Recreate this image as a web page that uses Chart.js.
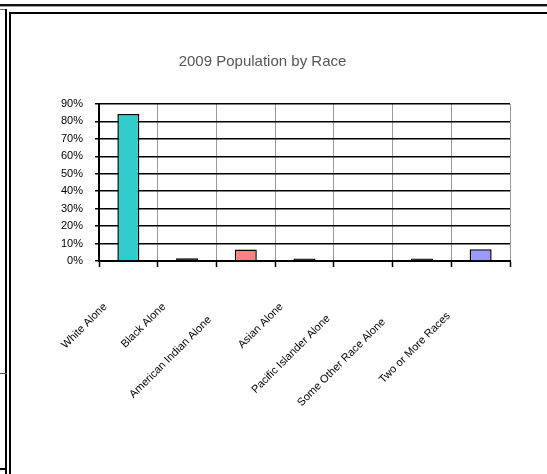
<!DOCTYPE html>
<html><head><meta charset="utf-8">
<script src="https://cdn.jsdelivr.net/npm/chart.js@4/dist/chart.umd.min.js"></script>
<style>
html,body{margin:0;padding:0;background:#fff;overflow:hidden}
#wrap{position:relative;width:547px;height:474px;background:#fff}
canvas{position:absolute;left:0;top:0}
.ln{position:absolute;background:#000}
</style></head><body>
<div id="wrap">
<canvas id="c" width="547" height="474"></canvas>
<!-- window frame lines -->
<div class="ln" style="left:0;top:4px;width:547px;height:2px;background:#111"></div>
<div class="ln" style="left:0;top:6px;width:547px;height:1px;background:#999"></div>
<div class="ln" style="left:0;top:9px;width:6px;height:1px;background:#666"></div>
<div class="ln" style="left:5px;top:9px;width:2px;height:465px"></div>
<div class="ln" style="left:9px;top:12px;width:538px;height:2px"></div>
<div class="ln" style="left:9px;top:12px;width:2px;height:462px"></div>
<div class="ln" style="left:0;top:373px;width:7px;height:1px;background:#555"></div>
<div class="ln" style="left:0;top:468px;width:7px;height:2px"></div>
</div>
<script>
const categories = ['White Alone', 'Black Alone', 'American Indian Alone', 'Asian Alone',
  'Pacific Islander Alone', 'Some Other Race Alone', 'Two or More Races'];
const shares = [84.3, 1.6, 6.6, 1.5, 0, 1.5, 6.7];
const barColors = ['#33CCCC', '#000000', '#FF8080', '#000000', '#000000', '#000000', '#9999FF'];
const yMax = 90;
const yStep = 10;

const fontFamily = "'Liberation Sans', Arial, sans-serif";
const font = { family: fontFamily, size: 11 };

// Category names slanted at 45 degrees; longer names slide further down the slope.
const slantedLabels = {
  id: 'slantedLabels',
  afterDraw(chart) {
    const xs = chart.scales.x;
    const ctx = chart.ctx;
    ctx.save();
    ctx.font = '11px ' + fontFamily;
    ctx.fillStyle = '#000';
    ctx.textAlign = 'right';
    ctx.textBaseline = 'middle';
    const shortW = ctx.measureText(categories[0]).width;
    xs.ticks.forEach((t, i) => {
      const label = xs.getLabelForValue(t.value);
      const w = ctx.measureText(label).width;
      const slide = 0.36 * Math.max(0, w - shortW) / Math.SQRT2;
      const x = xs.getPixelForTick(i) - 23 - slide;
      const y = xs.top + 44 + slide;
      ctx.save();
      ctx.translate(x, y);
      ctx.rotate(-Math.PI / 4);
      ctx.fillText(label, 0, 0);
      ctx.restore();
    });
    ctx.restore();
  }
};

new Chart(document.getElementById('c'), {
  type: 'bar',
  data: {
    labels: categories,
    datasets: [{
      data: shares,
      backgroundColor: barColors,
      borderColor: '#000',
      borderWidth: 1.5,
      barPercentage: 0.375,
      categoryPercentage: 1
    }]
  },
  plugins: [slantedLabels],
  options: {
    responsive: false,
    animation: false,
    devicePixelRatio: 1,
    layout: { padding: { left: 15, right: 37, top: 0, bottom: 0 } },
    plugins: {
      legend: { display: false },
      tooltip: { enabled: false },
      title: {
        display: true,
        text: '2009 Population by Race',
        color: '#555',
        font: { family: fontFamily, size: 15, weight: 'normal' },
        padding: { top: 53, bottom: 33 }
      }
    },
    scales: {
      x: {
        grid: { offset: true, color: '#999', lineWidth: 1, tickLength: 6, tickColor: '#000', tickWidth: 1.5 },
        border: { color: '#000', width: 2 },
        ticks: { display: false, autoSkip: false },
        afterFit: s => { s.height = 213; }
      },
      y: {
        min: 0, max: yMax,
        grid: { color: '#000', lineWidth: 1.5, tickLength: 4, tickColor: '#000' },
        border: { color: '#000', width: 2 },
        ticks: {
          stepSize: yStep, color: '#000', font: font, padding: 12,
          callback: v => v + '%'
        },
        afterFit: s => { s.width = 84; }
      }
    }
  }
});
</script>
</body></html>
